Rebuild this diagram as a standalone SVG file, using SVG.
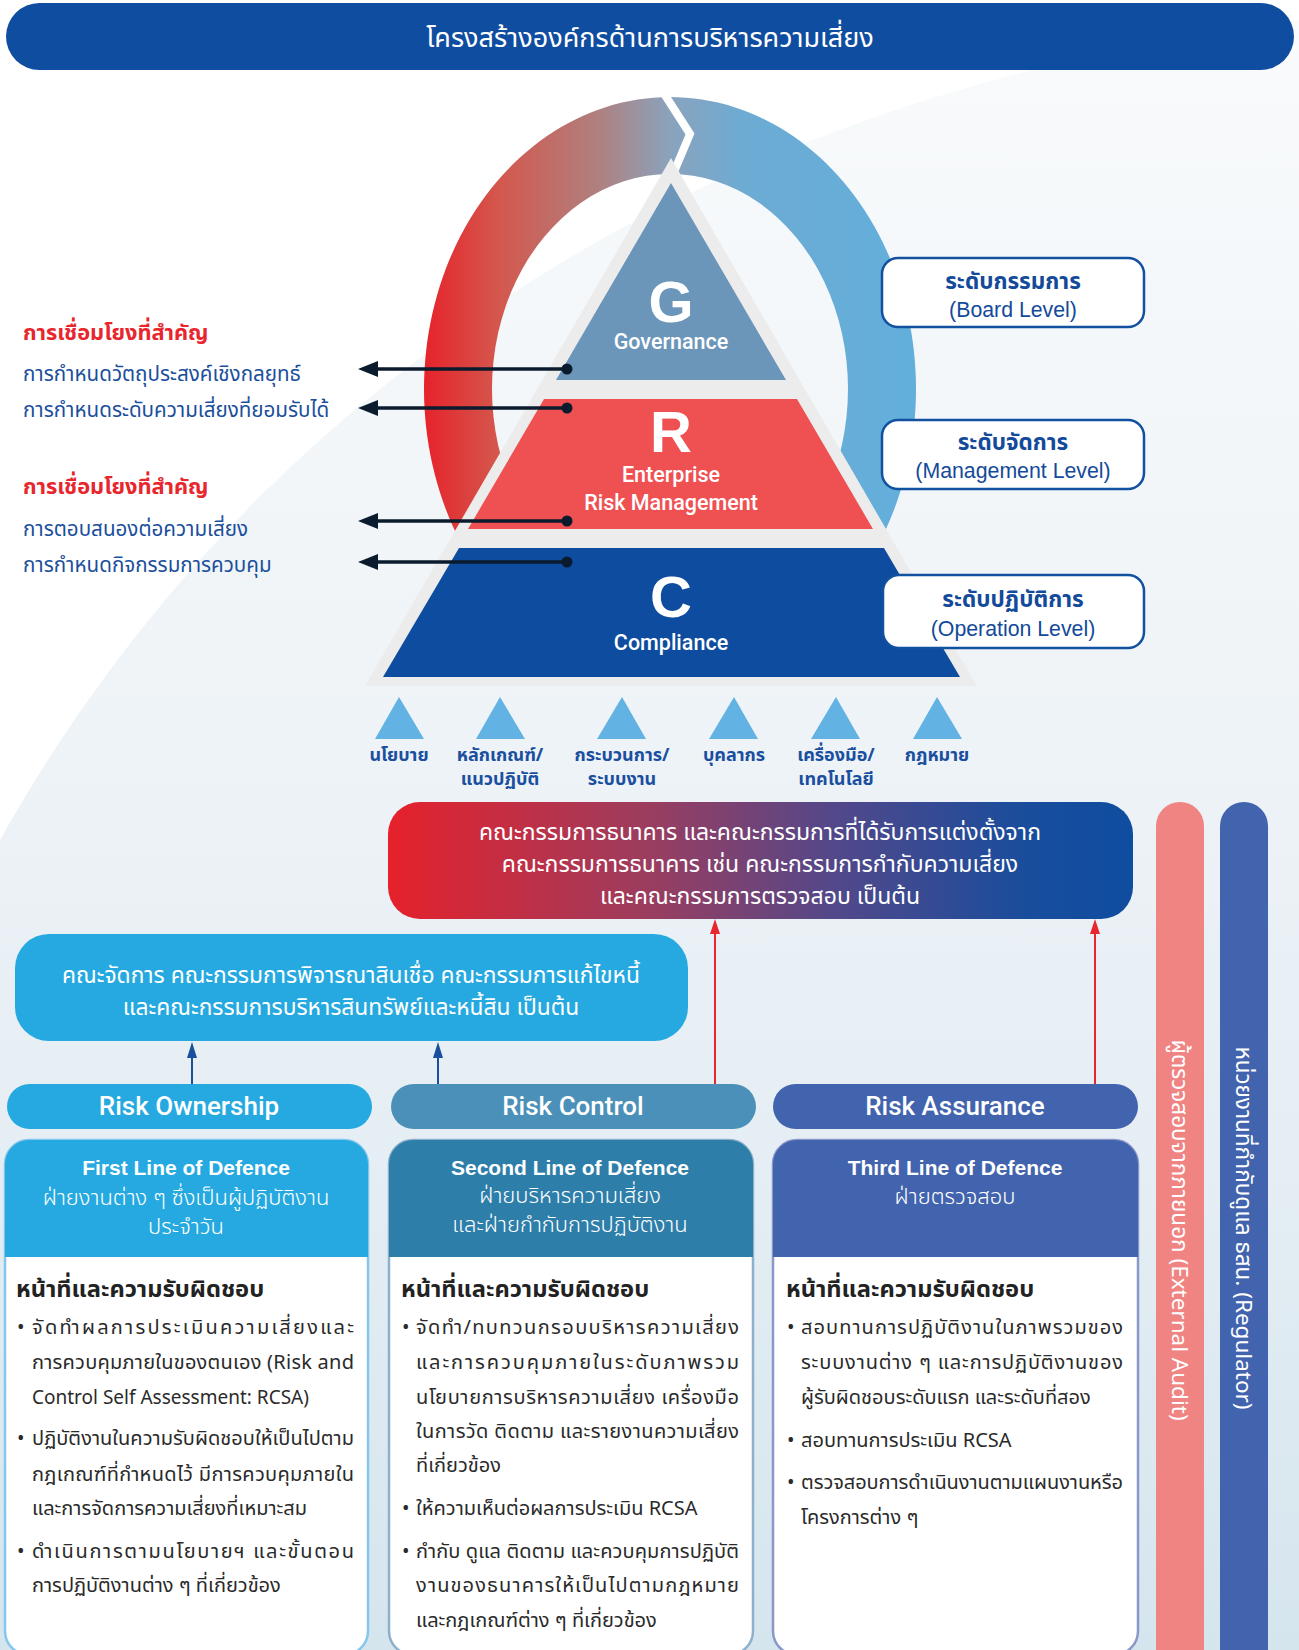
<svg xmlns="http://www.w3.org/2000/svg" width="1299" height="1650" viewBox="0 0 1299 1650">
<defs>
<linearGradient id="bg" x1="0" y1="0" x2="0" y2="1650" gradientUnits="userSpaceOnUse">
<stop offset="0" stop-color="#f9fbfc"/><stop offset="0.45" stop-color="#eef3f7"/><stop offset="0.7" stop-color="#e5eef4"/><stop offset="1" stop-color="#d5e5ee"/>
</linearGradient>
<linearGradient id="ring" x1="424" y1="0" x2="916" y2="0" gradientUnits="userSpaceOnUse">
<stop offset="0" stop-color="#e6232b"/><stop offset="0.15" stop-color="#d4574d"/><stop offset="0.35" stop-color="#b07f7e"/><stop offset="0.5" stop-color="#8aa3bd"/><stop offset="0.65" stop-color="#6dabd3"/><stop offset="1" stop-color="#62afdc"/>
</linearGradient>
<linearGradient id="board" x1="388" y1="0" x2="1133" y2="0" gradientUnits="userSpaceOnUse">
<stop offset="0" stop-color="#e6212b"/><stop offset="0.35" stop-color="#9b3d5f"/><stop offset="0.6" stop-color="#52488a"/><stop offset="0.85" stop-color="#1a4d9c"/><stop offset="1" stop-color="#0f4da0"/>
</linearGradient>
</defs>
<style>
.th{font-family:'Noto Sans Thai','Noto Sans','Liberation Sans',sans-serif}
.en{font-family:'Liberation Sans',Arial,sans-serif}
.md{font-family:Roboto,'Liberation Sans',Arial,sans-serif;font-weight:500}
.title{font-size:27px;fill:#fff}
.lhead{font-size:21.8px;fill:#e8262d;font-weight:bold}
.litem{font-size:20.6px;fill:#1b4f9c}
.big{font-size:58px;font-weight:bold;fill:#fff;text-anchor:middle}
.tier{font-size:21.5px;fill:#fff;text-anchor:middle}
.lvbox{fill:#fff;stroke:#1250a0;stroke-width:2.5}
.lvth{font-size:22.5px;font-weight:bold;fill:#134a9a;text-anchor:middle}
.lven{font-size:21.3px;fill:#134a9a;text-anchor:middle}
.tri{fill:#62b3e3}
.tlab{font-size:18px;font-weight:bold;fill:#1a4f9f;text-anchor:middle}
.boxt1{font-size:23px;fill:#fff;text-anchor:middle}
.boxt2{font-size:22.8px;fill:#fff;text-anchor:middle}
.pill{font-size:26px;fill:#fff;text-anchor:middle}
.ch1{font-size:21px;font-weight:bold;fill:#fff;text-anchor:middle}
.ch2{font-size:22px;fill:#fff;text-anchor:middle;font-weight:300}
.resp{font-size:23.7px;font-weight:bold;fill:#222}
.body{font-size:20px;fill:#2a2a2a}
.vbar{font-size:22.5px;fill:#fff;text-anchor:middle}
.arrowL{stroke:#0b1b2e;stroke-width:3.5}
</style>
<rect width="1299" height="1650" fill="url(#bg)"/>
<path d="M0,0 H1299 V20 C650,100 230,430 0,840 Z" fill="#ffffff"/>

<g id="title">
<rect x="6" y="3" width="1288" height="67" rx="33.5" fill="#0f4da1"/>
<text class="th title" x="650" y="47" text-anchor="middle">โครงสร้างองค์กรด้านการบริหารความเสี่ยง</text>
</g>

<g id="ring">
<path d="M670,97 a246,292 0 1,0 0.01,0 Z M670,174 a178,215 0 1,1 -0.01,0 Z" fill="url(#ring)" fill-rule="evenodd"/>
<polyline points="663,92 690,134 671,179" fill="none" stroke="#ffffff" stroke-width="8"/>
</g>

<g id="pyramid">
<polygon points="671,158 365,686 977,686" fill="#ececec"/>
</g>
<g id="tier-g">
<polygon points="671,183 556,380 786,380" fill="#6b96ba"/>
<text class="en big" x="671" y="322">G</text>
<text class="md tier" x="671" y="349">Governance</text>
</g>
<g id="tier-r">
<polygon points="544,399 797,399 873,529 468,529" fill="#ef5153"/>
<text class="en big" x="671" y="452">R</text>
<text class="md tier" x="671" y="482">Enterprise</text>
<text class="md tier" x="671" y="510">Risk Management</text>
</g>
<g id="tier-c">
<polygon points="459,548 884,548 960,677 383,677" fill="#0e4ca0"/>
<text class="en big" x="671" y="617">C</text>
<text class="md tier" x="671" y="650">Compliance</text>
</g>

<g id="links-left">
<text class="th lhead" x="23" y="340">การเชื่อมโยงที่สำคัญ</text>
<text class="th litem" x="23" y="381">การกำหนดวัตถุประสงค์เชิงกลยุทธ์</text>
<text class="th litem" x="23" y="417">การกำหนดระดับความเสี่ยงที่ยอมรับได้</text>
<text class="th lhead" x="23" y="494">การเชื่อมโยงที่สำคัญ</text>
<text class="th litem" x="23" y="536">การตอบสนองต่อความเสี่ยง</text>
<text class="th litem" x="23" y="572">การกำหนดกิจกรรมการควบคุม</text>
</g>

<g id="level-board">
<rect class="lvbox" x="882" y="258" width="262" height="69" rx="16"/>
<text class="th lvth" x="1013" y="289">ระดับกรรมการ</text>
<text class="en lven" x="1013" y="317">(Board Level)</text>
</g>
<g id="level-management">
<rect class="lvbox" x="882" y="420" width="262" height="69" rx="16"/>
<text class="th lvth" x="1013" y="450">ระดับจัดการ</text>
<text class="en lven" x="1013" y="478">(Management Level)</text>
</g>
<g id="level-operation">
<rect class="lvbox" x="883" y="575" width="261" height="73" rx="16"/>
<text class="th lvth" x="1013" y="607">ระดับปฏิบัติการ</text>
<text class="en lven" x="1013" y="636">(Operation Level)</text>
</g>

<g id="foundations">
<polygon class="tri" points="399,697 375,739 424,739"/>
<polygon class="tri" points="500,697 476,739 525,739"/>
<polygon class="tri" points="622,697 597,739 646,739"/>
<polygon class="tri" points="734,697 709,739 758,739"/>
<polygon class="tri" points="836,697 811,739 860,739"/>
<polygon class="tri" points="937,697 913,739 962,739"/>
<text class="th tlab" x="399" y="761">นโยบาย</text>
<text class="th tlab" x="500" y="761">หลักเกณฑ์/</text>
<text class="th tlab" x="500" y="785">แนวปฏิบัติ</text>
<text class="th tlab" x="622" y="761">กระบวนการ/</text>
<text class="th tlab" x="622" y="785">ระบบงาน</text>
<text class="th tlab" x="734" y="761">บุคลากร</text>
<text class="th tlab" x="836" y="761">เครื่องมือ/</text>
<text class="th tlab" x="836" y="785">เทคโนโลยี</text>
<text class="th tlab" x="937" y="761">กฎหมาย</text>
</g>

<g id="board-committees">
<rect x="388" y="802" width="745" height="117" rx="32" fill="url(#board)"/>
<text class="th boxt1" x="760" y="840">คณะกรรมการธนาคาร และคณะกรรมการที่ได้รับการแต่งตั้งจาก</text>
<text class="th boxt1" x="760" y="872">คณะกรรมการธนาคาร เช่น คณะกรรมการกำกับความเสี่ยง</text>
<text class="th boxt1" x="760" y="904">และคณะกรรมการตรวจสอบ เป็นต้น</text>
</g>

<g id="management-committees">
<rect x="15" y="934" width="673" height="107" rx="34" fill="#25a9e0"/>
<text class="th boxt2" x="351" y="983">คณะจัดการ คณะกรรมการพิจารณาสินเชื่อ คณะกรรมการแก้ไขหนี้</text>
<text class="th boxt2" x="351" y="1015">และคณะกรรมการบริหารสินทรัพย์และหนี้สิน เป็นต้น</text>
</g>

<g id="pill-ownership">
<rect x="7" y="1084" width="365" height="45" rx="22.5" fill="#25a9e0"/>
<text class="md pill" x="189" y="1115">Risk Ownership</text>
</g>
<g id="pill-control">
<rect x="391" y="1084" width="365" height="45" rx="22.5" fill="#4b90b8"/>
<text class="md pill" x="573" y="1115">Risk Control</text>
</g>
<g id="pill-assurance">
<rect x="773" y="1084" width="365" height="45" rx="22.5" fill="#4263ad"/>
<text class="md pill" x="955" y="1115">Risk Assurance</text>
</g>

<g id="card-first">
<rect x="5" y="1140" width="363" height="515" rx="24" fill="#fff" stroke="#85c6ec" stroke-width="2.5"/>
<path d="M5,1257 V1164 a24,24 0 0 1 24,-24 H344 a24,24 0 0 1 24,24 V1257 Z" fill="#25a9e0"/>
<text class="en ch1" x="186" y="1175">First Line of Defence</text>
<text class="th ch2" x="186" y="1205">ฝ่ายงานต่าง ๆ ซึ่งเป็นผู้ปฏิบัติงาน</text>
<text class="th ch2" x="186" y="1234">ประจำวัน</text>
<text class="th resp" x="16" y="1297">หน้าที่และความรับผิดชอบ</text>
<g class="th body">
<text x="17" y="1334">•</text><text x="32" y="1334" textLength="322" lengthAdjust="spacing">จัดทำผลการประเมินความเสี่ยงและ</text>
<text x="32" y="1369" textLength="322" lengthAdjust="spacing">การควบคุมภายในของตนเอง (Risk and</text>
<text x="32" y="1404" font-size="19">Control Self Assessment: RCSA)</text>
<text x="17" y="1445">•</text><text x="32" y="1445" textLength="322" lengthAdjust="spacing">ปฏิบัติงานในความรับผิดชอบให้เป็นไปตาม</text>
<text x="32" y="1481" textLength="322" lengthAdjust="spacing">กฎเกณฑ์ที่กำหนดไว้ มีการควบคุมภายใน</text>
<text x="32" y="1515">และการจัดการความเสี่ยงที่เหมาะสม</text>
<text x="17" y="1558">•</text><text x="32" y="1558" textLength="322" lengthAdjust="spacing">ดำเนินการตามนโยบายฯ และขั้นตอน</text>
<text x="32" y="1592">การปฏิบัติงานต่าง ๆ ที่เกี่ยวข้อง</text>
</g>
</g>

<g id="card-second">
<rect x="389" y="1140" width="364" height="515" rx="24" fill="#fff" stroke="#8db0cc" stroke-width="2.5"/>
<path d="M389,1257 V1164 a24,24 0 0 1 24,-24 H729 a24,24 0 0 1 24,24 V1257 Z" fill="#2e7eaa"/>
<text class="en ch1" x="570" y="1175">Second Line of Defence</text>
<text class="th ch2" x="570" y="1203">ฝ่ายบริหารความเสี่ยง</text>
<text class="th ch2" x="570" y="1232">และฝ่ายกำกับการปฏิบัติงาน</text>
<text class="th resp" x="401" y="1297">หน้าที่และความรับผิดชอบ</text>
<g class="th body">
<text x="402" y="1334">•</text><text x="416" y="1334" textLength="323" lengthAdjust="spacing">จัดทำ/ทบทวนกรอบบริหารความเสี่ยง</text>
<text x="416" y="1369" textLength="323" lengthAdjust="spacing">และการควบคุมภายในระดับภาพรวม</text>
<text x="416" y="1404" textLength="323" lengthAdjust="spacing">นโยบายการบริหารความเสี่ยง เครื่องมือ</text>
<text x="416" y="1438" textLength="323" lengthAdjust="spacing">ในการวัด ติดตาม และรายงานความเสี่ยง</text>
<text x="416" y="1472">ที่เกี่ยวข้อง</text>
<text x="402" y="1515">•</text><text x="416" y="1515">ให้ความเห็นต่อผลการประเมิน RCSA</text>
<text x="402" y="1558">•</text><text x="416" y="1558" textLength="323" lengthAdjust="spacing">กำกับ ดูแล ติดตาม และควบคุมการปฏิบัติ</text>
<text x="416" y="1592" textLength="323" lengthAdjust="spacing">งานของธนาคารให้เป็นไปตามกฎหมาย</text>
<text x="416" y="1627">และกฎเกณฑ์ต่าง ๆ ที่เกี่ยวข้อง</text>
</g>
</g>

<g id="card-third">
<rect x="773" y="1140" width="365" height="515" rx="24" fill="#fff" stroke="#8a97c9" stroke-width="2.5"/>
<path d="M773,1257 V1164 a24,24 0 0 1 24,-24 H1114 a24,24 0 0 1 24,24 V1257 Z" fill="#4263ad"/>
<text class="en ch1" x="955" y="1175">Third Line of Defence</text>
<text class="th ch2" x="955" y="1204">ฝ่ายตรวจสอบ</text>
<text class="th resp" x="786" y="1297">หน้าที่และความรับผิดชอบ</text>
<g class="th body">
<text x="787" y="1334">•</text><text x="801" y="1334" textLength="322" lengthAdjust="spacing">สอบทานการปฏิบัติงานในภาพรวมของ</text>
<text x="801" y="1369" textLength="322" lengthAdjust="spacing">ระบบงานต่าง ๆ และการปฏิบัติงานของ</text>
<text x="801" y="1404">ผู้รับผิดชอบระดับแรก และระดับที่สอง</text>
<text x="787" y="1447">•</text><text x="801" y="1447">สอบทานการประเมิน RCSA</text>
<text x="787" y="1489">•</text><text x="801" y="1489" textLength="322" lengthAdjust="spacing">ตรวจสอบการดำเนินงานตามแผนงานหรือ</text>
<text x="801" y="1524">โครงการต่าง ๆ</text>
</g>
</g>

<g id="bar-external-audit">
<rect x="1156" y="802" width="48" height="900" rx="24" fill="#f08482"/>
<text class="th vbar" transform="translate(1172,1230) rotate(90)">ผู้ตรวจสอบจากภายนอก (External Audit)</text>
</g>
<g id="bar-regulator">
<rect x="1220" y="802" width="48" height="900" rx="24" fill="#4263ad"/>
<text class="th vbar" transform="translate(1236,1228) rotate(90)">หน่วยงานที่กำกับดูแล ธสน. (Regulator)</text>
</g>

<g id="connectors">
<line class="arrowL" x1="567" y1="369" x2="376" y2="369"/>
<line class="arrowL" x1="567" y1="408" x2="376" y2="408"/>
<line class="arrowL" x1="567" y1="521" x2="376" y2="521"/>
<line class="arrowL" x1="567" y1="562" x2="376" y2="562"/>
<g fill="#0b1b2e">
<circle cx="567" cy="369" r="5.5"/><circle cx="567" cy="408" r="5.5"/><circle cx="567" cy="521" r="5.5"/><circle cx="567" cy="562" r="5.5"/>
<polygon points="358,369 378,361 378,377"/><polygon points="358,408 378,400 378,416"/><polygon points="358,521 378,513 378,529"/><polygon points="358,562 378,554 378,570"/>
</g>
<g stroke="#1a4f9f" stroke-width="2" fill="#1a4f9f">
<line x1="192" y1="1084" x2="192" y2="1056"/><polygon points="192,1042 187,1058 197,1058" stroke="none"/>
<line x1="438" y1="1084" x2="438" y2="1056"/><polygon points="438,1042 433,1058 443,1058" stroke="none"/>
</g>
<g stroke="#e8262d" stroke-width="2" fill="#e8262d">
<line x1="715" y1="1084" x2="715" y2="932"/><polygon points="715,919 710,934 720,934" stroke="none"/>
<line x1="1095" y1="1084" x2="1095" y2="932"/><polygon points="1095,919 1090,934 1100,934" stroke="none"/>
</g>
</g>
</svg>
